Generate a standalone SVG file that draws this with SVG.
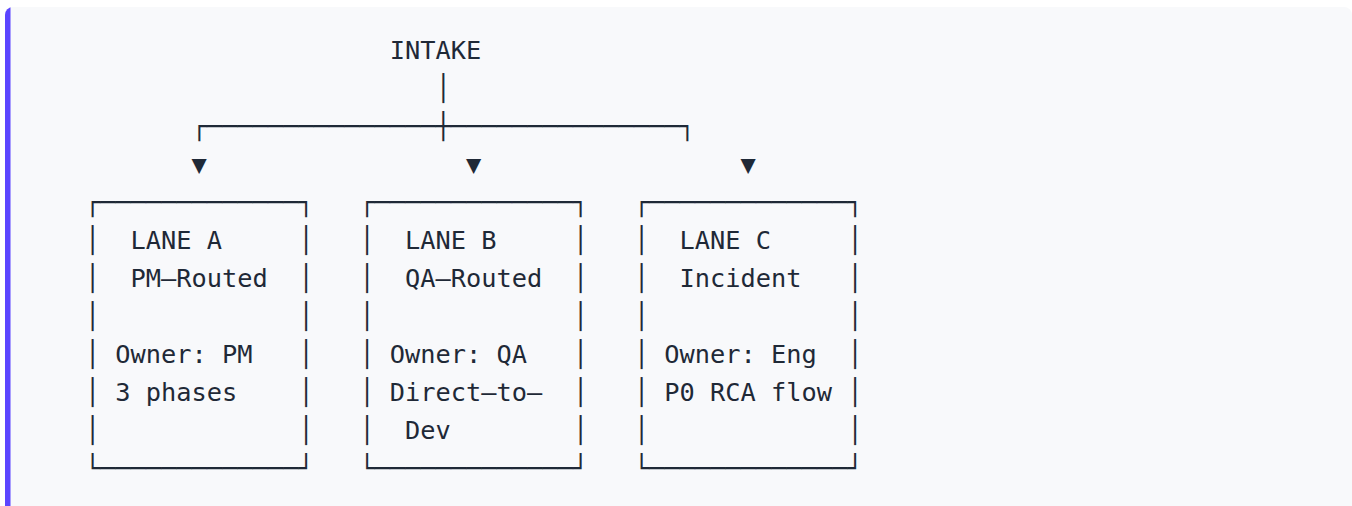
<svg xmlns="http://www.w3.org/2000/svg" width="1352" height="506" viewBox="0 0 1352 506" xml:space="preserve">
  <defs>
    <style>
      .t { font-family: "DejaVu Sans Mono", "Liberation Mono", monospace; font-size: 25.33px; fill: #1f2937; white-space: pre; }
    </style>
    <clipPath id="panelClip">
      <rect x="5" y="7" width="1347" height="520" rx="8" ry="8"/>
    </clipPath>
  </defs>
  <rect x="0" y="0" width="1352" height="506" fill="#ffffff"/>
  <g id="panel" clip-path="url(#panelClip)">
    <rect x="5" y="7" width="1347" height="520" fill="#f8f9fb"/>
    <rect x="5" y="7" width="5.5" height="520" fill="#5b45ff"/>
  </g>

  <g id="intake">
    <text class="t" x="389.7" y="59">INTAKE</text>
  </g>

  <g id="connectors">
    <text class="t" x="435.45" y="97">│</text>
    <text class="t" x="191.45" y="135">┌───────────────┼───────────────┐</text>
    <text class="t" x="191.45" y="173">▼</text>
    <text class="t" x="465.95" y="173">▼</text>
    <text class="t" x="740.45" y="173">▼</text>
  </g>

  <g id="laneA">
    <text class="t" x="84.7" y="211">┌─────────────┐</text>
    <text class="t" x="84.7" y="249">│  LANE A     │</text>
    <text class="t" x="84.7" y="287">│  PM–Routed  │</text>
    <text class="t" x="84.7" y="325">│             │</text>
    <text class="t" x="84.7" y="363">│ Owner: PM   │</text>
    <text class="t" x="84.7" y="401">│ 3 phases    │</text>
    <text class="t" x="84.7" y="439">│             │</text>
    <text class="t" x="84.7" y="477">└─────────────┘</text>
  </g>

  <g id="laneB">
    <text class="t" x="359.2" y="211">┌─────────────┐</text>
    <text class="t" x="359.2" y="249">│  LANE B     │</text>
    <text class="t" x="359.2" y="287">│  QA–Routed  │</text>
    <text class="t" x="359.2" y="325">│             │</text>
    <text class="t" x="359.2" y="363">│ Owner: QA   │</text>
    <text class="t" x="359.2" y="401">│ Direct–to–  │</text>
    <text class="t" x="359.2" y="439">│  Dev        │</text>
    <text class="t" x="359.2" y="477">└─────────────┘</text>
  </g>

  <g id="laneC">
    <text class="t" x="633.7" y="211">┌─────────────┐</text>
    <text class="t" x="633.7" y="249">│  LANE C     │</text>
    <text class="t" x="633.7" y="287">│  Incident   │</text>
    <text class="t" x="633.7" y="325">│             │</text>
    <text class="t" x="633.7" y="363">│ Owner: Eng  │</text>
    <text class="t" x="633.7" y="401">│ P0 RCA flow │</text>
    <text class="t" x="633.7" y="439">│             │</text>
    <text class="t" x="633.7" y="477">└─────────────┘</text>
  </g>
</svg>
